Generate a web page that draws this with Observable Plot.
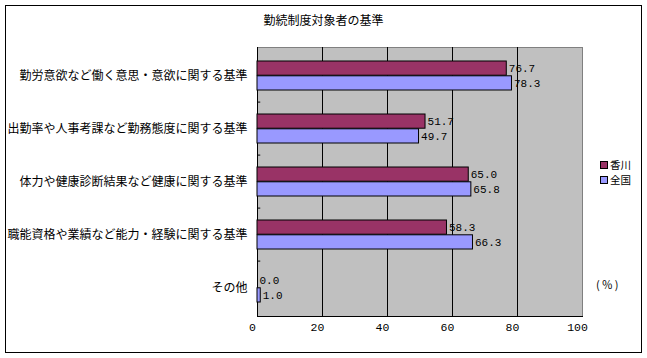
<!DOCTYPE html>
<html><head><meta charset="utf-8">
<script src="https://cdn.jsdelivr.net/npm/d3@7"></script>
<script src="https://cdn.jsdelivr.net/npm/@observablehq/plot@0.6"></script>
<style>
body{margin:0;background:#fff;}
#wrap{position:relative;width:647px;height:358px;font-family:"Noto Sans CJK JP",sans-serif;color:#000;}
#border{position:absolute;left:5px;top:5px;width:637px;height:348px;border:1px solid #000;box-sizing:border-box;pointer-events:none;}
#title{position:absolute;left:0;top:11px;width:647px;text-align:center;font-size:12px;}
#chart{position:absolute;left:0;top:0;}
.leg{position:absolute;left:600px;font-size:10.5px;height:11px;line-height:11px;display:flex;align-items:center;}
.sw{width:6px;height:6px;border:1px solid #000;margin-right:2px;}
#unit{position:absolute;left:596px;top:276px;font-size:11px;letter-spacing:2px;}
</style></head>
<body>
<div id="wrap">
  <div id="chart"></div>
  <div id="title">勤続制度対象者の基準</div>
  <div class="leg" style="top:159px"><div class="sw" style="background:#993366"></div>香川</div>
  <div class="leg" style="top:174px"><div class="sw" style="background:#9999ff"></div>全国</div>
  <div id="unit">(％)</div>
  <div id="border"></div>
</div>
<script>
const categories = ["勤労意欲など働く意思・意欲に関する基準", "出勤率や人事考課など勤務態度に関する基準", "体力や健康診断結果など健康に関する基準", "職能資格や業績など能力・経験に関する基準", "その他"];
const seriesNames = ["香川", "全国"];
const kagawa = [76.7, 51.7, 65.0, 58.3, 0.0];
const zenkoku = [78.3, 49.7, 65.8, 66.3, 1.0];
const xTicks = [0, 20, 40, 60, 80, 100];

const rows = categories.map((c, i) => ({cat: c, kagawa: kagawa[i], zenkoku: zenkoku[i]}));
const H = 358 - 47 - 42;
const step = H / categories.length;
const half = step * 0.55 / 2;
const mono = "'Liberation Mono', 'DejaVu Sans Mono', monospace";

const chart = Plot.plot({
  width: 647, height: 358,
  marginLeft: 257, marginRight: 65, marginTop: 47, marginBottom: 42,
  style: {fontFamily: "'Noto Sans CJK JP', sans-serif", fontSize: "12px", background: "transparent"},
  x: {domain: [0, 100], ticks: xTicks},
  y: {domain: categories, paddingInner: 0.45, paddingOuter: 0.225},
  marks: [
    Plot.frame({fill: "#c0c0c0", stroke: "#808080"}),
    Plot.ruleX(xTicks.slice(1, -1), {stroke: "#000"}),
    Plot.ruleX([0], {stroke: "#000"}),
    Plot.frame({anchor: "bottom", stroke: "#000"}),
    Plot.ruleY(categories.slice(1), {y: d => d, x1: 0, x2: 1, stroke: "#000", dy: -step / 2}),
    Plot.barX(rows, {y: "cat", x: "kagawa", fill: "#993366", stroke: "#000", strokeWidth: 1, insetBottom: half}),
    Plot.barX(rows, {y: "cat", x: "zenkoku", fill: "#9999ff", stroke: "#000", strokeWidth: 1, insetTop: half}),
    Plot.text(rows, {y: "cat", x: "kagawa", text: d => d.kagawa.toFixed(1), textAnchor: "start", dx: 2, dy: -half / 2, fontFamily: mono, fontSize: 11}),
    Plot.text(rows, {y: "cat", x: "zenkoku", text: d => d.zenkoku.toFixed(1), textAnchor: "start", dx: 2, dy: half / 2, fontFamily: mono, fontSize: 11}),
    Plot.axisY({tickSize: 0, tickPadding: 10, label: null}),
    Plot.axisX({ticks: xTicks, tickSize: 0, tickPadding: 6, dx: -5, label: null, fontFamily: mono, fontSize: 11.5})
  ]
});
document.getElementById("chart").appendChild(chart);
</script>
</body></html>
